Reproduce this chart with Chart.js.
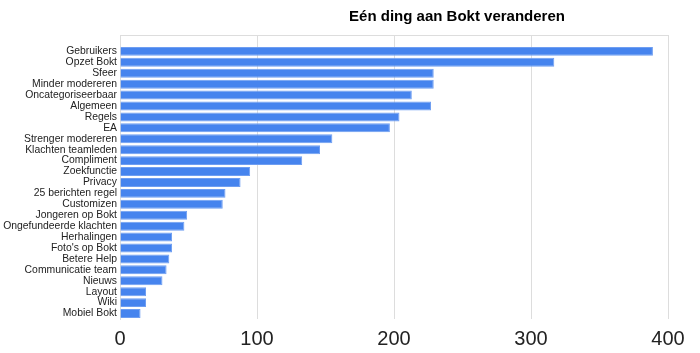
<!DOCTYPE html>
<html>
<head>
<meta charset="utf-8">
<script src="https://cdn.jsdelivr.net/npm/chart.js@4/dist/chart.umd.min.js"></script>
<style>
  body { margin: 0; background: #fff; }
  #wrap { width: 700px; height: 353px; }
</style>
</head>
<body>
<div id="wrap"><canvas id="chart" width="700" height="353"></canvas></div>
<script>
// first slot is left empty, like in the original chart
var onderwerpen = ['', 'Gebruikers', 'Opzet Bokt', 'Sfeer', 'Minder modereren', 'Oncategoriseerbaar',
    'Algemeen', 'Regels', 'EA', 'Strenger modereren', 'Klachten teamleden', 'Compliment',
    'Zoekfunctie', 'Privacy', '25 berichten regel', 'Customizen', 'Jongeren op Bokt',
    'Ongefundeerde klachten', 'Herhalingen', "Foto's op Bokt", 'Betere Help',
    'Communicatie team', 'Nieuws', 'Layout', 'Wiki', 'Mobiel Bokt'];
var aantallen = [null, 389, 317, 229, 229, 213, 227, 204, 197, 155, 146, 133,
    95, 88, 77, 75, 49, 47, 38, 38, 36, 34, 31, 19, 19, 15];
var xTicks = [0, 100, 200, 300, 400];
var titel = 'Eén ding aan Bokt veranderen';

var extras = {
    id: 'extras',
    beforeDatasetsDraw: function(chart) {
        var ctx = chart.ctx;
        var a = chart.chartArea;
        ctx.save();
        ctx.strokeStyle = '#dddddd';
        ctx.lineWidth = 1;
        ctx.beginPath();
        ctx.moveTo(a.left, a.top + 0.5);
        ctx.lineTo(a.right, a.top + 0.5);
        ctx.stroke();
        ctx.restore();
    },
    afterDraw: function(chart) {
        var ctx = chart.ctx;
        ctx.save();
        ctx.font = 'bold 15px "Liberation Sans", Arial, sans-serif';
        ctx.fillStyle = '#000';
        ctx.textAlign = 'center';
        ctx.textBaseline = 'middle';
        ctx.fillText(titel, 457, 17);
        ctx.restore();
    }
};

var ctx = document.getElementById('chart').getContext('2d');
var chart = new Chart(ctx, {
    type: 'bar',
    data: {
        labels: onderwerpen,
        datasets: [{
            data: aantallen,
            backgroundColor: '#4684ee',
            borderColor: '#6f9ef1',
            borderWidth: 1,
            barPercentage: 0.82,
            categoryPercentage: 1
        }]
    },
    options: {
        indexAxis: 'y',
        responsive: false,
        animation: false,
        layout: { padding: { top: 35, right: 32, left: 0, bottom: 0 } },
        plugins: {
            legend: { display: false },
            title: { display: false },
            tooltip: { enabled: false }
        },
        scales: {
            x: {
                min: 0,
                max: 400,
                afterBuildTicks: function(scale) {
                    scale.ticks = xTicks.map(function(v) { return { value: v }; });
                },
                afterFit: function(scale) { scale.height = 34; },
                grid: { color: '#dddddd', drawTicks: false },
                border: { display: false },
                ticks: {
                    color: '#222',
                    padding: 8,
                    font: { family: '"Liberation Sans", Arial, sans-serif', size: 20 }
                }
            },
            y: {
                afterFit: function(scale) { scale.width = 120; },
                grid: { display: false, drawTicks: false },
                border: { display: true, color: '#dddddd' },
                ticks: {
                    color: '#222',
                    padding: 3,
                    autoSkip: false,
                    font: { family: '"Liberation Sans", Arial, sans-serif', size: 10.4 }
                }
            }
        }
    },
    plugins: [extras]
});
</script>
</body>
</html>
